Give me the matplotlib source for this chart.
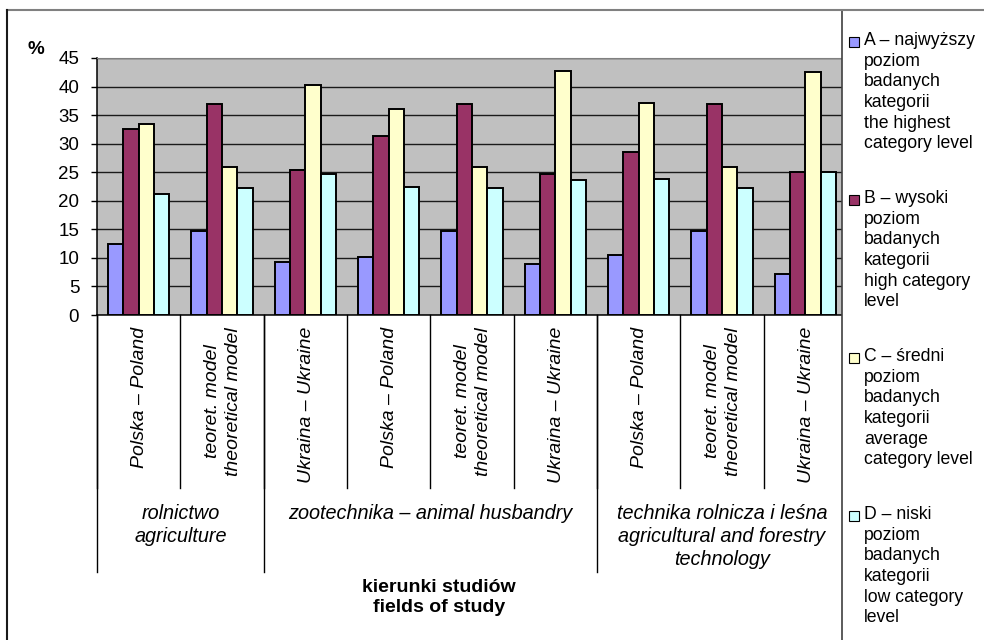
import matplotlib
matplotlib.use('Agg')
import matplotlib.pyplot as plt
import matplotlib.transforms as mtransforms
from matplotlib.patches import Rectangle
from matplotlib.lines import Line2D
import numpy as np

plt.rcParams['font.family'] = ['Liberation Sans', 'DejaVu Sans']

categories = ['Polska – Poland', 'teoret. model\ntheoretical model', 'Ukraina – Ukraine',
              'Polska – Poland', 'teoret. model\ntheoretical model', 'Ukraina – Ukraine',
              'Polska – Poland', 'teoret. model\ntheoretical model', 'Ukraina – Ukraine']
groups = ['rolnictwo\nagriculture',
          'zootechnika – animal husbandry',
          'technika rolnicza i leśna\nagricultural and forestry\ntechnology']
group_bounds = [0, 2, 6, 9]

level_a = [12.5, 14.7, 9.3, 10.2, 14.7, 8.9, 10.5, 14.7, 7.2]
level_b = [32.5, 36.9, 25.4, 31.3, 36.9, 24.7, 28.5, 36.9, 25.1]
level_c = [33.4, 25.9, 40.3, 36.0, 25.9, 42.7, 37.1, 25.9, 42.5]
level_d = [21.2, 22.2, 24.7, 22.4, 22.2, 23.6, 23.8, 22.2, 25.1]

legend_labels = ['A – najwyższy\npoziom\nbadanych\nkategorii\nthe highest\ncategory level',
                 'B – wysoki\npoziom\nbadanych\nkategorii\nhigh category\nlevel',
                 'C – średni\npoziom\nbadanych\nkategorii\naverage\ncategory level',
                 'D – niski\npoziom\nbadanych\nkategorii\nlow category\nlevel']
colors = ['#9999FF', '#993366', '#FFFFCC', '#CCFFFF']
yticks = np.arange(0, 50, 5)

W, H = 984, 640
fig = plt.figure(figsize=(W / 100, H / 100), dpi=100)
ax = fig.add_axes([97 / W, 1 - 315 / H, 750 / W, 257 / H])
ax.set_facecolor('#C0C0C0')

x = np.arange(len(categories))
w = 0.184
for i, (vals, col) in enumerate(zip([level_a, level_b, level_c, level_d], colors)):
    ax.bar(x + (i - 1.5) * w, vals, w, color=col, edgecolor='black', linewidth=1.4, zorder=3)

ax.set_xlim(-0.5, len(categories) - 0.5)
ax.set_ylim(0, 45)
ax.set_yticks(yticks)
ax.set_xticks([])
ax.yaxis.grid(True, color='#1a1a1a', linewidth=1.0)
ax.set_axisbelow(True)
ax.tick_params(axis='y', length=4.3, width=1, pad=8.5, labelsize=13.5, direction='out')
ax.spines['right'].set_visible(False)
ax.spines['top'].set_color('#808080')
ax.spines['left'].set_linewidth(1.1)
ax.spines['bottom'].set_linewidth(1.1)

trans = mtransforms.blended_transform_factory(ax.transData, ax.transAxes)

# category separators and rotated labels
for b in np.arange(len(categories) + 1) - 0.5:
    ax.plot([b, b], [0, -173 / 257], transform=trans, color='black', lw=1, clip_on=False)
for i, lab in enumerate(categories):
    ax.text(i + 0.01, -12 / 257, lab, transform=trans, rotation=90, ha='center', va='top',
            style='italic', fontsize=14, multialignment='center', linespacing=1.3)

# group separators and labels
for g in group_bounds:
    ax.plot([g - 0.5, g - 0.5], [0, -1.0], transform=trans, color='black', lw=1, clip_on=False)
for k, lab in enumerate(groups):
    xc = (group_bounds[k] + group_bounds[k + 1] - 1) / 2
    ax.text(xc, -189 / 257, lab, transform=trans, ha='center', va='top',
            style='italic', fontsize=14.3, multialignment='center', linespacing=1.28)

fig.text(439 / W, 1 - 579 / H, 'kierunki studiów\nfields of study', ha='center', va='top',
         fontsize=14, fontweight='bold', multialignment='center', linespacing=1.2)
fig.text(36 / W, 1 - 50 / H, '%', ha='center', va='center', fontsize=13.5, fontweight='bold')

# legend box on the right
fig.add_artist(Rectangle((842 / W, -0.02), 0.2, 1.02 - 9.5 / H, transform=fig.transFigure,
                         facecolor='white', edgecolor='#404040', lw=1.2, zorder=5))
for k, lab in enumerate(legend_labels):
    yc = 42 + k * 158
    fig.add_artist(Rectangle((849 / W, 1 - (yc + 5) / H), 10 / W, 10 / H, transform=fig.transFigure,
                             facecolor=colors[k], edgecolor='black', lw=0.8, zorder=6))
    fig.text(864 / W, 1 - (yc - 10) / H, lab, ha='left', va='top', fontsize=12.7,
             linespacing=1.28, zorder=6)

# outer frame
fig.add_artist(Line2D([7 / W, 1], [1 - 9.5 / H, 1 - 9.5 / H], transform=fig.transFigure,
                      color='#808080', lw=1.5, zorder=7))
fig.add_artist(Line2D([7 / W, 7 / W], [0, 1 - 9.5 / H], transform=fig.transFigure,
                      color='#1a1a1a', lw=1.5, zorder=7))

fig.savefig('out.png', dpi=100)
